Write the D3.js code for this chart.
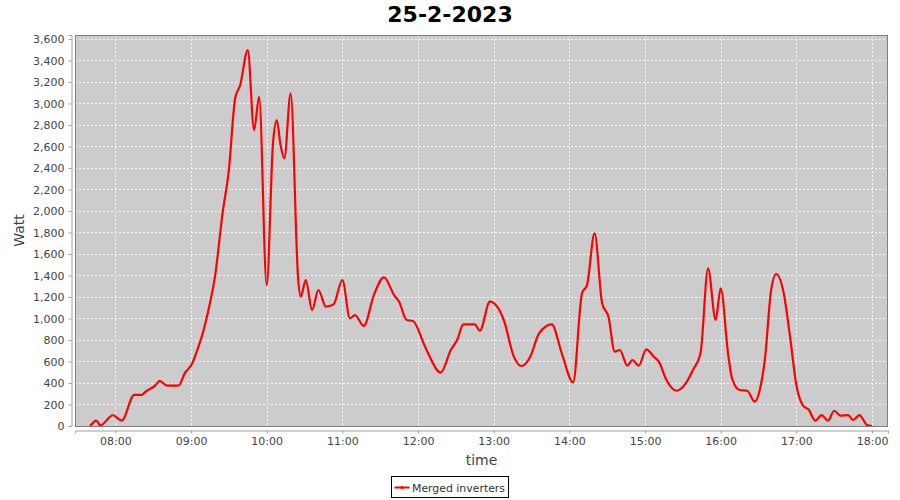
<!DOCTYPE html>
<html>
<head>
<meta charset="utf-8">
<script src="https://cdn.jsdelivr.net/npm/d3@7"></script>
<style>
  body { margin: 0; background: #fff; }
  text { font-family: "DejaVu Sans", sans-serif; }
</style>
</head>
<body>
<script>
// readings (time of day, watt)
const times = ["07:40","07:45","07:48","07:58","08:05","08:15","08:21","08:24","08:32","08:35","08:41","08:50","08:55",
  "09:01","09:05","09:10","09:15","09:19","09:25","09:30","09:35","09:39","09:45","09:50","09:54",
  "10:00","10:05","10:08","10:11","10:14","10:19","10:25","10:27","10:31","10:36","10:41","10:47","10:53",
  "11:00","11:06","11:10","11:17","11:25","11:33","11:41","11:45","11:51","11:56",
  "12:05","12:08","12:18","12:26","12:31","12:36","12:45","12:49","12:57",
  "13:08","13:16","13:22","13:29","13:36","13:46","13:54",
  "14:03","14:10","14:14","14:20","14:26","14:31","14:36","14:40","14:46","14:50","14:55",
  "15:01","15:07","15:11","15:17","15:25","15:32","15:38","15:44","15:50","15:56",
  "16:00","16:06","16:09","16:15","16:21","16:27","16:31","16:35","16:40","16:44","16:50","16:55",
  "17:00","17:05","17:10","17:15","17:20","17:25","17:30","17:35","17:41","17:45","17:50","17:56","18:00"];
const watts = [0,50,5,100,50,290,290,320,380,420,375,375,490,
  583,707,893,1141,1389,1978,2381,3048,3171,3497,2753,3062,
  1311,2629,2846,2613,2490,3094,1358,1203,1358,1079,1265,1110,1131,
  1358,1001,1032,930,1218,1383,1218,1156,986,977,
  753,676,496,707,800,946,946,886,1156,
  986,645,558,645,862,946,676,
  406,1234,1311,1792,1141,1016,691,707,561,614,561,
  713,645,598,428,328,391,521,676,1467,986,
  1281,660,443,335,328,226,335,614,1265,1414,1234,830,
  381,195,149,49,102,49,142,96,102,56,102,9,0];
const xTickLabels = ["08:00","09:00","10:00","11:00","12:00","13:00","14:00","15:00","16:00","17:00","18:00"];
const yTicks = d3.range(0, 3601, 200);
const seriesName = "Merged inverters";
const title = "25-2-2023";

const W = 900, H = 500;
const plot = {left: 75, top: 35, right: 888, bottom: 426};

const parse = d3.timeParse("%H:%M");
const data = times.map((t, i) => ({t: parse(t), v: watts[i]}));

const svg = d3.select("body").append("svg")
  .attr("width", W).attr("height", H);

const x = d3.scaleTime()
  .domain([parse("07:28"), new Date(parse("18:12").getTime() + 40000)])
  .range([plot.left, plot.right]);
const y = d3.scaleLinear()
  .domain([0, 3637])
  .range([plot.bottom, plot.top]);

// plot background
svg.append("rect")
  .attr("x", plot.left).attr("y", plot.top)
  .attr("width", plot.right - plot.left).attr("height", plot.bottom - plot.top)
  .attr("fill", "#cccccc");

// grid
const xTicks = xTickLabels.map(parse);
svg.append("g").selectAll("line").data(xTicks).join("line")
  .attr("x1", d => Math.round(x(d)) + 0.5).attr("x2", d => Math.round(x(d)) + 0.5)
  .attr("y1", plot.top).attr("y2", plot.bottom)
  .attr("stroke", "#fff").attr("stroke-width", 0.8).attr("stroke-dasharray", "2,2");
svg.append("g").selectAll("line").data(yTicks).join("line")
  .attr("x1", plot.left).attr("x2", plot.right)
  .attr("y1", d => Math.round(y(d)) + 0.5).attr("y2", d => Math.round(y(d)) + 0.5)
  .attr("stroke", "#fff").attr("stroke-width", 0.8).attr("stroke-dasharray", "2,2");

// line
svg.append("clipPath").attr("id", "clip").append("rect")
  .attr("x", plot.left).attr("y", plot.top)
  .attr("width", plot.right - plot.left).attr("height", plot.bottom - plot.top);

const line = d3.line()
  .x(d => x(d.t)).y(d => y(d.v))
  .curve(d3.curveMonotoneX);
svg.append("path")
  .datum(data)
  .attr("clip-path", "url(#clip)")
  .attr("fill", "none").attr("stroke", "#ff0000").attr("stroke-width", 2.2)
  .attr("stroke-linejoin", "round")
  .attr("d", line);

// plot outline
svg.append("rect")
  .attr("x", plot.left + 0.5).attr("y", plot.top + 0.5)
  .attr("width", plot.right - plot.left - 1).attr("height", plot.bottom - plot.top)
  .attr("fill", "none").attr("stroke", "#808080");

// axes
const yAxis = d3.axisLeft(y).tickValues(yTicks).tickFormat(d3.format(",")).tickSize(3).tickPadding(4);
const gy = svg.append("g").attr("transform", "translate(" + (plot.left - 3.5) + ",0)").call(yAxis);
const xAxis = d3.axisBottom(x).tickValues(xTicks).tickFormat(d3.timeFormat("%H:%M")).tickSize(3).tickPadding(4);
const gx = svg.append("g").attr("transform", "translate(0," + (plot.bottom + 4.5) + ")").call(xAxis);
[gy, gx].forEach(g => {
  g.select(".domain").attr("stroke", "#a0a0a0");
  g.selectAll(".tick line").attr("stroke", "#a0a0a0");
  g.selectAll(".tick text").attr("fill", "#444").attr("font-size", 11)
    .attr("font-family", "DejaVu Sans, sans-serif");
});

// axis labels
svg.append("text")
  .attr("transform", "translate(24," + ((plot.top + plot.bottom) / 2) + ") rotate(-90)")
  .attr("text-anchor", "middle").attr("font-size", 14).attr("fill", "#444")
  .text("Watt");
svg.append("text")
  .attr("x", (plot.left + plot.right) / 2).attr("y", 465)
  .attr("text-anchor", "middle").attr("font-size", 14).attr("fill", "#444")
  .text("time");

// title
svg.append("text")
  .attr("x", W / 2).attr("y", 22)
  .attr("text-anchor", "middle").attr("font-size", 22).attr("font-weight", "bold")
  .attr("fill", "#000")
  .text(title);

// legend
const lg = svg.append("g").attr("transform", "translate(391.5,476.5)");
lg.append("rect").attr("width", 117).attr("height", 21)
  .attr("fill", "#fff").attr("stroke", "#000");
lg.append("line").attr("x1", 3).attr("x2", 18).attr("y1", 11).attr("y2", 11)
  .attr("stroke", "#ff0000").attr("stroke-width", 2);
lg.append("circle").attr("cx", 10.5).attr("cy", 11).attr("r", 1.5).attr("fill", "#ff0000");
lg.append("text").attr("x", 20.5).attr("y", 15)
  .attr("font-size", 11).attr("fill", "#333")
  .attr("textLength", 93).attr("lengthAdjust", "spacingAndGlyphs")
  .text(seriesName);
</script>
</body>
</html>
